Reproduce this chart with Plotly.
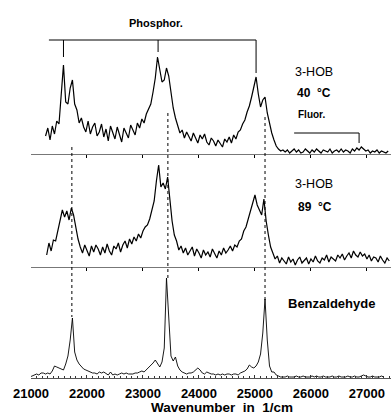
import plotly.graph_objects as go

# ---------------- data ----------------
# 3-HOB at 40 °C (wavenumber grid start / step, intensity in arbitrary units)
hob40_start, hob40_step = 21260, 40
hob40 = [18, 26, 14, 28, 20, 33, 30, 58, 89, 52, 50, 66, 74, 50, 44,
         31, 36, 27, 22, 33, 20, 27, 31, 18, 22, 30, 17, 25, 13, 28, 22, 15, 27, 19, 12,
         26, 21, 16, 29, 24, 19, 31, 26, 35, 31, 40,
         46, 50, 62, 76, 97, 84, 72, 74, 86, 78, 60, 46, 36,
         28, 21, 24, 16, 22, 18, 13, 21, 16, 11, 19, 15, 20, 12, 9, 16, 13, 8, 14, 11,
         7, 15, 12, 17, 11, 19, 15, 22,
         24, 30, 34, 42, 48, 57, 66, 77, 60, 47, 54, 57, 41, 30, 21, 14, 8, 5, 3, 4,
         2, 4, 1, 3, 5, 2, 4, 1, 2, 5, 3, 1, 4, 2, 5, 3, 1, 4, 3, 2, 5, 1, 3, 4, 2,
         5, 2, 4, 3, 1, 5, 3, 6, 4, 7, 5, 3, 4, 1, 3, 2, 4, 1, 3, 2, 1, 3]

# 3-HOB at 89 °C
hob89_start, hob89_step = 21280, 40
hob89 = [12, 24, 16, 27, 26, 36, 48, 57, 50, 56, 47, 59, 52, 38, 28,
         20, 14, 22, 17, 11, 21, 15, 22, 18, 12, 20, 14, 23, 16, 12, 21, 18, 24, 15, 22,
         26, 19, 28, 23, 30, 26, 33, 29, 36, 40,
         42, 48, 58, 66, 86, 102, 80, 84, 78, 90, 68, 46, 32, 26,
         17, 21, 14, 19, 12, 16, 20, 11, 18, 14, 9, 17, 12, 15, 10, 18, 13, 9, 16, 12,
         19, 14, 17, 21, 16, 22, 20, 26,
         28, 36, 40, 48, 54, 62, 72, 62, 56, 52, 68, 46, 32, 20, 14, 8, 11,
         4, 9, 6, 3, 10, 5, 8, 2, 7, 10, 4, 6, 9, 3, 8, 5, 11, 6, 4, 9, 7, 12, 5, 10, 8,
         6, 12, 9, 13, 7, 11, 14, 9, 16, 12, 10, 15, 11, 13, 8, 12, 6, 10, 9, 5, 11, 7, 4, 9, 6]

# Benzaldehyde reference
benz_start, benz_step = 20980, 40
benz = [1, 2, 3, 4, 3, 5, 5, 4, 5, 4, 7, 12, 11, 10, 9, 8, 14, 22, 38, 60,
        26, 18, 14, 11, 9, 8, 7, 6, 5, 5, 4, 6, 5, 6, 4, 3, 6, 3, 4, 3,
        4, 5, 4, 5, 4, 4, 4, 5, 5, 6, 7, 6, 8, 10, 13, 15, 18, 14, 11, 16,
        30, 100, 55, 22, 17, 21, 12, 8, 6, 5, 4, 5, 5, 6, 8, 10, 8, 5, 4, 6,
        5, 4, 4, 3, 4, 3, 4, 3, 4, 4, 3, 4, 4, 3, 5, 6, 7, 9, 13, 11,
        10, 12, 16, 24, 45, 79, 38, 12, 6, 6, 3, 2, 1, 1, 1, 2, 1, 1, 1, 2,
        1, 1, 2, 1, 1, 1, 2, 1, 2, 1, 1, 2, 1, 1, 1, 2, 1, 1, 2, 1,
        1, 1, 2, 1, 1, 2, 1, 1, 2, 3, 2, 1, 1, 2, 1, 1, 1, 2, 1]

# marker wavenumbers
benz_peaks = [21730, 23445, 25180]          # dotted correlation lines
phosphor_origins = [21580, 23270, 25020]    # phosphorescence bracket legs
phosphor_span = [21320, 25020]
fluor_span = [25700, 26860]

tick_vals = [21000, 22000, 23000, 24000, 25000, 26000, 27000]
tick_text = ["21000", "22000", "23000", "24000", "25000", "26000", "27000"]

# ---------------- layout helpers ----------------
W, H = 392, 419
ML, MR, MT, MB = 31, 1, 0, 41
PW, PH = W - ML - MR, H - MT - MB


def px(xp):
    return (xp - ML) / PW


def py(yp):
    return (MT + PH - yp) / PH


def grid(start, step, n):
    return [start + step * i for i in range(n)]


xr = [21000, 27430]
font_b = "Arial, Liberation Sans, sans-serif"

fig = go.Figure()
line = dict(color="black", width=1.2)
fig.add_trace(go.Scatter(x=grid(hob40_start, hob40_step, len(hob40)), y=hob40,
                         mode="lines", line=line, xaxis="x", yaxis="y", showlegend=False))
fig.add_trace(go.Scatter(x=grid(hob89_start, hob89_step, len(hob89)), y=hob89,
                         mode="lines", line=line, xaxis="x2", yaxis="y2", showlegend=False))
fig.add_trace(go.Scatter(x=grid(benz_start, benz_step, len(benz)), y=benz,
                         mode="lines", line=dict(color="black", width=0.9),
                         xaxis="x3", yaxis="y3", showlegend=False))

panel_axis = dict(range=xr, showline=True, linecolor="#777", linewidth=1,
                  ticks="outside", ticklen=3, tickcolor="black",
                  tickvals=tick_vals[1:], showticklabels=False, showgrid=False,
                  zeroline=False, domain=[0, 1])

fig.update_layout(
    width=W, height=H, margin=dict(l=ML, r=MR, t=MT, b=MB),
    paper_bgcolor="white", plot_bgcolor="white",
    xaxis=dict(anchor="y", **panel_axis),
    xaxis2=dict(anchor="y2", matches="x", **panel_axis),
    xaxis3=dict(anchor="y3", matches="x", range=xr, showline=True, linecolor="#555",
                linewidth=1, ticks="inside", ticklen=3, tickcolor="#333",
                tickvals=tick_vals, ticktext=tick_text, showgrid=False, zeroline=False,
                minor=dict(dtick=100, tick0=21000, ticks="inside", ticklen=2, tickcolor="#333"),
                tickfont=dict(family=font_b, size=13, color="black", weight="bold"),
                ticklabelstandoff=3, domain=[0, 1]),
    yaxis=dict(domain=[224 / PH, 1], range=[0, 154], visible=False),
    yaxis2=dict(domain=[111 / PH, 221 / PH], range=[0, 110], visible=False),
    yaxis3=dict(domain=[0, 110 / PH], range=[0, 110], visible=False),
)

shapes = []
# dotted correlation lines (pixel extents)
dot_ranges = [(147, 317), (113, 278), (117, 300)]
for wn, (y0, y1) in zip(benz_peaks, dot_ranges):
    shapes.append(dict(type="line", xref="x", yref="paper", x0=wn, x1=wn,
                       y0=py(y0), y1=py(y1), line=dict(color="black", width=1, dash="dot")))
# phosphorescence bracket
shapes.append(dict(type="line", xref="x", yref="y", x0=phosphor_span[0], x1=phosphor_span[1],
                   y0=114, y1=114, line=dict(color="black", width=1)))
for wn, yend in zip(phosphor_origins, [97, 102, 81]):
    shapes.append(dict(type="line", xref="x", yref="y", x0=wn, x1=wn, y0=114, y1=yend,
                       line=dict(color="black", width=1)))
# fluorescence bracket
shapes.append(dict(type="line", xref="x", yref="y", x0=fluor_span[0], x1=fluor_span[1],
                   y0=21, y1=21, line=dict(color="black", width=1)))
shapes.append(dict(type="line", xref="x", yref="y", x0=fluor_span[1], x1=fluor_span[1],
                   y0=21, y1=11, line=dict(color="black", width=1)))
fig.update_layout(shapes=shapes)


def ann(text, x, y, size, bold=True):
    fig.add_annotation(text=text, xref="paper", yref="paper", x=px(x), y=py(y),
                       xanchor="center", yanchor="middle", showarrow=False,
                       font=dict(family=font_b, size=size, color="black",
                                 weight="bold" if bold else "normal"))


ann("Phosphor.", 156, 23, 11)
ann("3-HOB", 314, 72.5, 12.5, bold=False)
ann("40  °C", 314, 93.5, 12)
ann("Fluor.", 311, 115, 10)
ann("3-HOB", 314, 184, 12.5, bold=False)
ann("89  °C", 315, 206.5, 12)
ann("Benzaldehyde", 331, 303, 13)
ann("Wavenumber  in  1/cm", 222, 407, 13.5)

fig.write_html("out.html", config={"displayModeBar": False},
               post_script="document.body.style.margin='0';")
